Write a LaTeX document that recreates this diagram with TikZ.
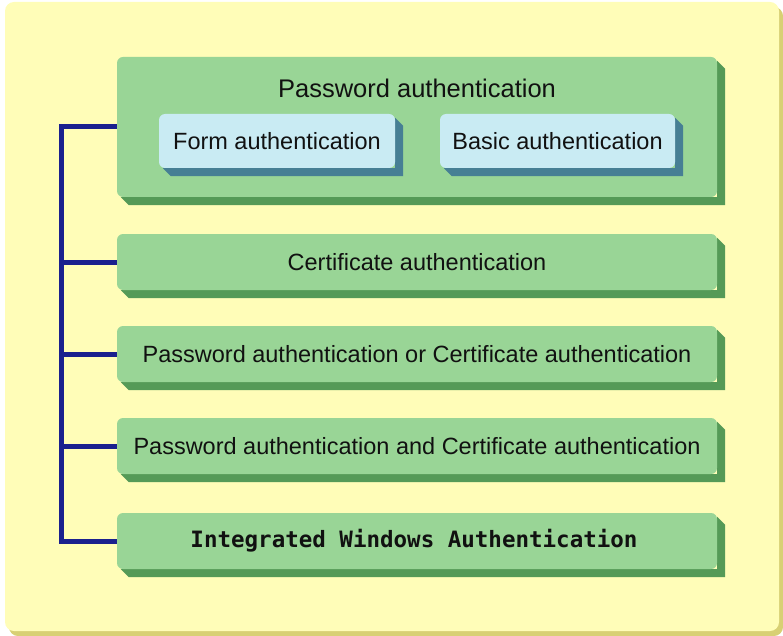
\documentclass[tikz,border=0pt]{standalone}
\usepackage{fontspec}
\setmainfont{Liberation Sans}
\newfontfamily\monofont{DejaVu Sans Mono}
\usetikzlibrary{calc}

\definecolor{paper}{HTML}{FFFDB8}
\definecolor{papershade}{HTML}{D8D074}
\definecolor{gface}{HTML}{99D596}
\definecolor{gshade}{HTML}{559A57}
\definecolor{bface}{HTML}{C9EBF3}
\definecolor{bshade}{HTML}{467F94}
\definecolor{trunkblue}{HTML}{1A208E}
\definecolor{ink}{HTML}{111111}

\pgfdeclarelayer{bglayer}
\pgfdeclarelayer{shadeA}
\pgfdeclarelayer{faceA}
\pgfdeclarelayer{shadeB}
\pgfsetlayers{bglayer,shadeA,faceA,shadeB,main}

\tikzset{
  panel/.style={fill=gface, draw=none, rounded corners=6pt, inner sep=0pt,
    text=ink, minimum width=600pt},
  rowbox/.style={panel, minimum height=56pt},
  subbox/.style={fill=bface, draw=none, rounded corners=6pt, inner sep=0pt,
    text=ink, minimum height=54pt},
  trunk/.style={draw=trunkblue, line width=5pt, line join=miter},
  bigtxt/.style={font=\fontsize{23.5}{28}\selectfont},
}

% drop shadow below and to the right of a node, with chamfered ends
\newcommand{\dropshade}[3][8]{%
  \fill[#3] ($(#2.north east)+(0,4)$) -- ($(#2.north east)+(#1,4+#1)$)
    -- ($(#2.south east)+(#1,#1)$) -- ($(#2.south west)+(4+#1,#1)$)
    -- ($(#2.south west)+(4,0)$) -- (#2.south east) -- cycle;}

\begin{document}
\begin{tikzpicture}[x=1pt,y=-1pt]
\useasboundingbox (0,0) rectangle (783,636);

% sheet
\begin{pgfonlayer}{bglayer}
  \fill[papershade, rounded corners=9pt] (9,7) rectangle (783,636);
  \fill[paper, rounded corners=9pt] (5,2) rectangle (779,631);
\end{pgfonlayer}

% outer panels
\begin{pgfonlayer}{faceA}
  \node[panel, minimum height=140pt] (pw) at (417,127) {};
  \node[rowbox, bigtxt] (cert) at (417,262) {Certificate authentication};
  \node[rowbox, bigtxt] (orbox) at (417,354)
    {Password authentication or Certificate authentication};
  \node[rowbox, bigtxt] (andbox) at (417,446)
    {Password authentication and Certificate authentication};
  \node[rowbox, font=\monofont\bfseries\fontsize{22.5}{27}\selectfont] (iwa) at (417,541)
    {\hspace*{-6pt}Integrated Windows Authentication};
\end{pgfonlayer}

\begin{pgfonlayer}{shadeA}
  \dropshade{pw}{gshade}
  \dropshade{cert}{gshade}
  \dropshade{orbox}{gshade}
  \dropshade{andbox}{gshade}
  \dropshade{iwa}{gshade}
\end{pgfonlayer}

% contents of the password panel
\node[text=ink, font=\fontsize{25.5}{30}\selectfont] (pwtitle) at (417,88)
  {Password authentication};
\node[subbox, bigtxt, minimum width=236pt] (form) at (277,141) {Form authentication};
\node[subbox, bigtxt, minimum width=235pt] (basic) at (557.5,141) {Basic authentication};

\begin{pgfonlayer}{shadeB}
  \dropshade{form}{bshade}
  \dropshade{basic}{bshade}
\end{pgfonlayer}

% tree connector
\coordinate (trunktop) at (61,127);
\coordinate (trunkbot) at (61,541);
\draw[trunk] (pw.west) -- (trunktop) -- (trunkbot) -- (iwa.west);
\draw[trunk] (cert.west -| trunktop) -- (cert.west);
\draw[trunk] (orbox.west -| trunktop) -- (orbox.west);
\draw[trunk] (andbox.west -| trunktop) -- (andbox.west);
\end{tikzpicture}
\end{document}
